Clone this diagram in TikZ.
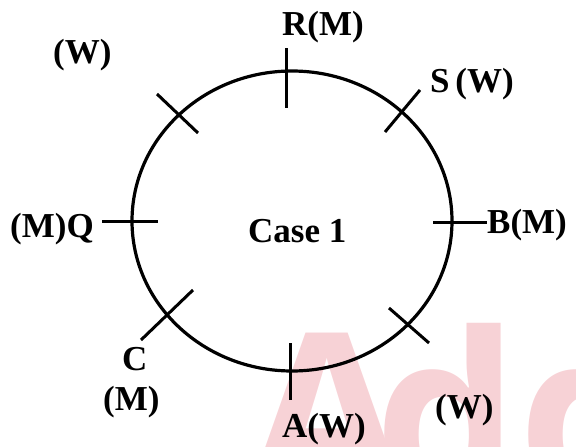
\documentclass[tikz,border=0pt]{standalone}
\usepackage{fontspec}
\setmainfont{Liberation Serif}
\newfontfamily\wmfont{Open Sans}
\definecolor{wmpink}{RGB}{247,210,214}
\tikzset{
  ring/.style={line width=3.2pt},
  tick/.style={line width=3pt},
  lbl/.style={font=\bfseries\fontsize{35}{40}\selectfont, inner sep=0pt, anchor=base west},
  wmark/.style={font=\wmfont\bfseries\fontsize{228}{228}\selectfont, text=wmpink,
    anchor=base west, inner sep=0pt},
}
\begin{document}
\begin{tikzpicture}[x=1pt, y=-1pt]
  \useasboundingbox (0,0) rectangle (576,447);

  \begin{scope}
    \clip (0,0) rectangle (576,447);
    \node[wmark] (wma) at (248,496) {A};
    \node[wmark] (wmd) at (374,496) {dda};
  \end{scope}

  \draw[ring] (292,221) ellipse [x radius=160, y radius=150];
  \foreach \xa/\ya/\xb/\yb in {286/48/286/108, 102/221/158/221, 433/222/487/222,
    290/343/290/400, 157/94/198/133, 385/132/420/90, 389/308/429/343, 141/340/193/290}
    \draw[tick] (\xa,\ya) -- (\xb,\yb);

  \node[lbl] (case) at (248,242) {Case 1};
  \node[lbl] (r) at (282,35) {R(M)};
  \node[lbl] (s) at (430,92) {S\,(W)};
  \node[lbl] (wnw) at (53,63) {(W)};
  \node[lbl] (q) at (10,237) {(M)Q};
  \node[lbl] (b) at (487,233) {B(M)};
  \node[lbl] (c) at (122,370) {C};
  \node[lbl] (cm) at (103,410) {(M)};
  \node[lbl] (a) at (282,437) {A(W)};
  \node[lbl] (wse) at (435,418) {(W)};
\end{tikzpicture}
\end{document}
